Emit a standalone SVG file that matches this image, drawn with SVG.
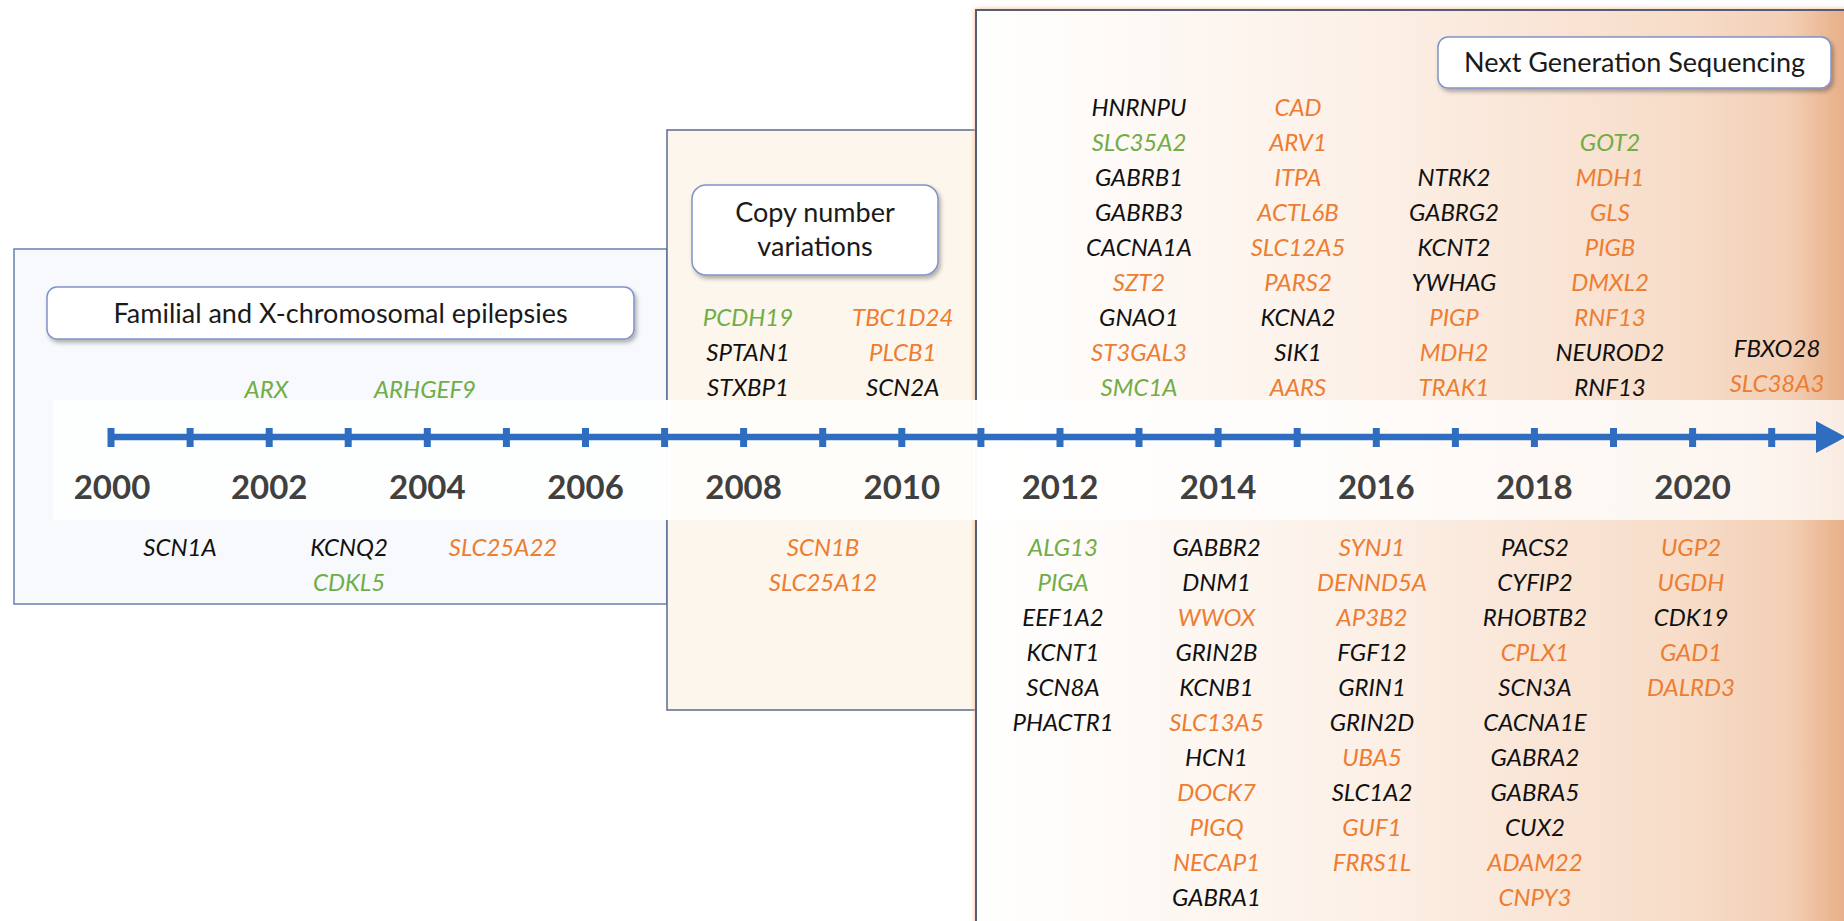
<svg xmlns="http://www.w3.org/2000/svg" width="1844" height="921" viewBox="0 0 1844 921">
<defs>
<linearGradient id="ngsGrad" x1="976" y1="0" x2="1850" y2="0" gradientUnits="userSpaceOnUse">
<stop offset="0" stop-color="#ffffff"/>
<stop offset="0.45" stop-color="#fcf0e7"/>
<stop offset="0.82" stop-color="#f7dcc8"/>
<stop offset="0.93" stop-color="#f3cfb5"/>
<stop offset="0.97" stop-color="#ecbb98"/>
<stop offset="1" stop-color="#e6ac85"/>
</linearGradient>
<filter id="glow" x="-5%" y="-5%" width="110%" height="110%">
<feDropShadow dx="0" dy="0" stdDeviation="2.5" flood-color="#f4b183" flood-opacity="0.9"/>
</filter>
<filter id="shadow" x="-10%" y="-20%" width="120%" height="150%">
<feDropShadow dx="2" dy="3" stdDeviation="2" flood-color="#000" flood-opacity="0.3"/>
</filter>
<style>
.gene{font-family:Lato,"Open Sans",sans-serif;font-style:italic;font-size:24px;text-anchor:middle}
.k{fill:#111111}
.gr{fill:#70ad47}
.or{fill:#ed7d31}
.yr{font-family:Lato,"Open Sans",sans-serif;font-weight:bold;font-size:33px;fill:#404040;text-anchor:middle}
.hdr{font-family:Lato,"Open Sans",sans-serif;font-size:27px;fill:#1a1a1a;text-anchor:middle}
.hbox{fill:#ffffff;stroke:#8192c6;stroke-width:1.5}
.tick{fill:#2e6dbf}
</style>
</defs>
<rect x="0" y="0" width="1844" height="921" fill="#ffffff"/>

<g id="era-familial">
<rect x="14" y="249" width="653" height="355" fill="#f8f9fc" stroke="#6a7fb0" stroke-width="1.5"/>
</g>
<g id="era-cnv">
<rect x="667" y="130" width="309" height="580" fill="#fdf6ec" stroke="#5a6c94" stroke-width="1.5"/>
</g>
<g id="era-ngs">
<rect x="976" y="10" width="890" height="930" fill="url(#ngsGrad)" stroke="#555d72" stroke-width="2" filter="url(#glow)"/>
</g>

<rect id="axis-band" x="53" y="400" width="1791" height="120" fill="#ffffff" fill-opacity="0.75"/>
<rect x="664" y="400" width="6" height="120" fill="#ffffff" fill-opacity="0.9"/>
<rect x="973" y="400" width="6" height="120" fill="#ffffff" fill-opacity="0.9"/>

<g id="header-familial">
<rect class="hbox" x="47" y="287" width="587" height="52" rx="10" filter="url(#shadow)"/>
<text class="hdr" x="340.5" y="323">Familial and X-chromosomal epilepsies</text>
</g>
<g id="header-cnv">
<rect class="hbox" x="692" y="185" width="246" height="90" rx="14" filter="url(#shadow)"/>
<text class="hdr" x="815" y="222">Copy number</text>
<text class="hdr" x="815" y="256">variations</text>
</g>
<g id="header-ngs">
<rect class="hbox" x="1438" y="37" width="393" height="51" rx="10" filter="url(#shadow)"/>
<text class="hdr" x="1634.5" y="72">Next Generation Sequencing</text>
</g>

<g id="timeline-axis">
<line x1="111" y1="437" x2="1818" y2="437" stroke="#2e6dbf" stroke-width="6.5"/>
<polygon points="1816,421 1846,437 1816,453" fill="#2e6dbf"/>
<rect class="tick" x="107.5" y="428" width="7" height="19"/>
<rect class="tick" x="186.6" y="428" width="7" height="19"/>
<rect class="tick" x="265.7" y="428" width="7" height="19"/>
<rect class="tick" x="344.7" y="428" width="7" height="19"/>
<rect class="tick" x="423.8" y="428" width="7" height="19"/>
<rect class="tick" x="502.9" y="428" width="7" height="19"/>
<rect class="tick" x="582" y="428" width="7" height="19"/>
<rect class="tick" x="661.1" y="428" width="7" height="19"/>
<rect class="tick" x="740.1" y="428" width="7" height="19"/>
<rect class="tick" x="819.2" y="428" width="7" height="19"/>
<rect class="tick" x="898.3" y="428" width="7" height="19"/>
<rect class="tick" x="977.4" y="428" width="7" height="19"/>
<rect class="tick" x="1056.5" y="428" width="7" height="19"/>
<rect class="tick" x="1135.5" y="428" width="7" height="19"/>
<rect class="tick" x="1214.6" y="428" width="7" height="19"/>
<rect class="tick" x="1293.7" y="428" width="7" height="19"/>
<rect class="tick" x="1372.8" y="428" width="7" height="19"/>
<rect class="tick" x="1451.9" y="428" width="7" height="19"/>
<rect class="tick" x="1530.9" y="428" width="7" height="19"/>
<rect class="tick" x="1610" y="428" width="7" height="19"/>
<rect class="tick" x="1689.1" y="428" width="7" height="19"/>
<rect class="tick" x="1768.2" y="428" width="7" height="19"/>
</g>

<g id="year-labels">
<text class="yr" x="112" y="499">2000</text>
<text class="yr" x="269.2" y="499">2002</text>
<text class="yr" x="427.3" y="499">2004</text>
<text class="yr" x="585.5" y="499">2006</text>
<text class="yr" x="743.6" y="499">2008</text>
<text class="yr" x="901.8" y="499">2010</text>
<text class="yr" x="1060" y="499">2012</text>
<text class="yr" x="1218.1" y="499">2014</text>
<text class="yr" x="1376.3" y="499">2016</text>
<text class="yr" x="1534.4" y="499">2018</text>
<text class="yr" x="1692.6" y="499">2020</text>
</g>

<g id="genes-early">
<text class="gene gr" x="266.5" y="398">ARX</text>
<text class="gene gr" x="425" y="398">ARHGEF9</text>
<text class="gene k" x="180" y="555.5">SCN1A</text>
<text class="gene k" x="349" y="555.5">KCNQ2</text>
<text class="gene gr" x="349" y="590.6">CDKL5</text>
<text class="gene or" x="503" y="555.5">SLC25A22</text>
</g>

<g id="genes-cnv">
<text class="gene gr" x="748" y="326">PCDH19</text>
<text class="gene k" x="748" y="361.1">SPTAN1</text>
<text class="gene k" x="748" y="396.1">STXBP1</text>
<text class="gene or" x="902.7" y="326">TBC1D24</text>
<text class="gene or" x="902.7" y="361.1">PLCB1</text>
<text class="gene k" x="902.7" y="396.1">SCN2A</text>
<text class="gene or" x="823" y="555.5">SCN1B</text>
<text class="gene or" x="823" y="590.6">SLC25A12</text>
</g>

<g id="genes-2013">
<text class="gene k" x="1139" y="115.5">HNRNPU</text>
<text class="gene gr" x="1139" y="150.6">SLC35A2</text>
<text class="gene k" x="1139" y="185.7">GABRB1</text>
<text class="gene k" x="1139" y="220.7">GABRB3</text>
<text class="gene k" x="1139" y="255.8">CACNA1A</text>
<text class="gene or" x="1139" y="290.9">SZT2</text>
<text class="gene k" x="1139" y="326">GNAO1</text>
<text class="gene or" x="1139" y="361.1">ST3GAL3</text>
<text class="gene gr" x="1139" y="396.1">SMC1A</text>
</g>
<g id="genes-2015">
<text class="gene or" x="1298" y="115.5">CAD</text>
<text class="gene or" x="1298" y="150.6">ARV1</text>
<text class="gene or" x="1298" y="185.7">ITPA</text>
<text class="gene or" x="1298" y="220.7">ACTL6B</text>
<text class="gene or" x="1298" y="255.8">SLC12A5</text>
<text class="gene or" x="1298" y="290.9">PARS2</text>
<text class="gene k" x="1298" y="326">KCNA2</text>
<text class="gene k" x="1298" y="361.1">SIK1</text>
<text class="gene or" x="1298" y="396.1">AARS</text>
</g>
<g id="genes-2017">
<text class="gene k" x="1454" y="185.7">NTRK2</text>
<text class="gene k" x="1454" y="220.7">GABRG2</text>
<text class="gene k" x="1454" y="255.8">KCNT2</text>
<text class="gene k" x="1454" y="290.9">YWHAG</text>
<text class="gene or" x="1454" y="326">PIGP</text>
<text class="gene or" x="1454" y="361.1">MDH2</text>
<text class="gene or" x="1454" y="396.1">TRAK1</text>
</g>
<g id="genes-2019">
<text class="gene gr" x="1610" y="150.6">GOT2</text>
<text class="gene or" x="1610" y="185.7">MDH1</text>
<text class="gene or" x="1610" y="220.7">GLS</text>
<text class="gene or" x="1610" y="255.8">PIGB</text>
<text class="gene or" x="1610" y="290.9">DMXL2</text>
<text class="gene or" x="1610" y="326">RNF13</text>
<text class="gene k" x="1610" y="361.1">NEUROD2</text>
<text class="gene k" x="1610" y="396.1">RNF13</text>
</g>
<g id="genes-2021">
<text class="gene k" x="1777" y="356.5">FBXO28</text>
<text class="gene or" x="1777" y="391.5">SLC38A3</text>
</g>

<g id="genes-2012">
<text class="gene gr" x="1063" y="555.5">ALG13</text>
<text class="gene gr" x="1063" y="590.6">PIGA</text>
<text class="gene k" x="1063" y="625.6">EEF1A2</text>
<text class="gene k" x="1063" y="660.7">KCNT1</text>
<text class="gene k" x="1063" y="695.8">SCN8A</text>
<text class="gene k" x="1063" y="730.9">PHACTR1</text>
</g>
<g id="genes-2014">
<text class="gene k" x="1216.5" y="555.5">GABBR2</text>
<text class="gene k" x="1216.5" y="590.6">DNM1</text>
<text class="gene or" x="1216.5" y="625.6">WWOX</text>
<text class="gene k" x="1216.5" y="660.7">GRIN2B</text>
<text class="gene k" x="1216.5" y="695.8">KCNB1</text>
<text class="gene or" x="1216.5" y="730.9">SLC13A5</text>
<text class="gene k" x="1216.5" y="765.9">HCN1</text>
<text class="gene or" x="1216.5" y="801">DOCK7</text>
<text class="gene or" x="1216.5" y="836.1">PIGQ</text>
<text class="gene or" x="1216.5" y="871.1">NECAP1</text>
<text class="gene k" x="1216.5" y="906.2">GABRA1</text>
</g>
<g id="genes-2016">
<text class="gene or" x="1372" y="555.5">SYNJ1</text>
<text class="gene or" x="1372" y="590.6">DENND5A</text>
<text class="gene or" x="1372" y="625.6">AP3B2</text>
<text class="gene k" x="1372" y="660.7">FGF12</text>
<text class="gene k" x="1372" y="695.8">GRIN1</text>
<text class="gene k" x="1372" y="730.9">GRIN2D</text>
<text class="gene or" x="1372" y="765.9">UBA5</text>
<text class="gene k" x="1372" y="801">SLC1A2</text>
<text class="gene or" x="1372" y="836.1">GUF1</text>
<text class="gene or" x="1372" y="871.1">FRRS1L</text>
</g>
<g id="genes-2018">
<text class="gene k" x="1535" y="555.5">PACS2</text>
<text class="gene k" x="1535" y="590.6">CYFIP2</text>
<text class="gene k" x="1535" y="625.6">RHOBTB2</text>
<text class="gene or" x="1535" y="660.7">CPLX1</text>
<text class="gene k" x="1535" y="695.8">SCN3A</text>
<text class="gene k" x="1535" y="730.9">CACNA1E</text>
<text class="gene k" x="1535" y="765.9">GABRA2</text>
<text class="gene k" x="1535" y="801">GABRA5</text>
<text class="gene k" x="1535" y="836.1">CUX2</text>
<text class="gene or" x="1535" y="871.1">ADAM22</text>
<text class="gene or" x="1535" y="906.2">CNPY3</text>
</g>
<g id="genes-2020">
<text class="gene or" x="1691" y="555.5">UGP2</text>
<text class="gene or" x="1691" y="590.6">UGDH</text>
<text class="gene k" x="1691" y="625.6">CDK19</text>
<text class="gene or" x="1691" y="660.7">GAD1</text>
<text class="gene or" x="1691" y="695.8">DALRD3</text>
</g>
</svg>
